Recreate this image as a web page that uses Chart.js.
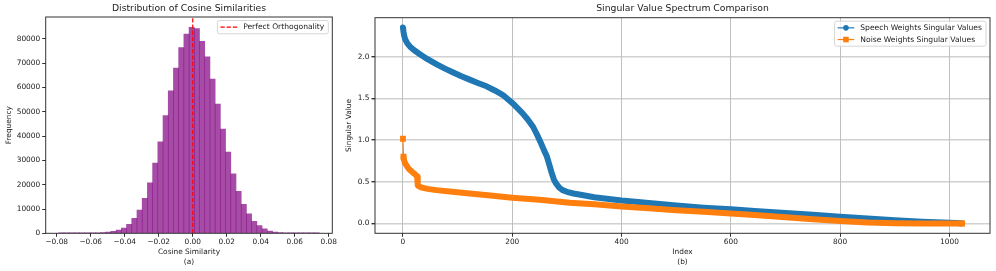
<!DOCTYPE html>
<html>
<head>
<meta charset="utf-8">
<script src="https://cdn.jsdelivr.net/npm/chart.js@4.4.1/dist/chart.umd.min.js"></script>
<style>
  html, body { margin: 0; padding: 0; background: #fff; }
  .panel { position: absolute; top: 0; }
</style>
</head>
<body>
<div class="panel" style="left:0"><canvas id="hist" width="340" height="271"></canvas></div>
<div class="panel" style="left:340px"><canvas id="spec" width="656" height="271"></canvas></div>
<script>
// (a) histogram of cosine similarities, 50 bins
const binStart = -0.0788;
const binWidth = 0.003066;
const binCounts = [
  1, 2, 5, 12, 25, 50, 100, 170, 275, 550,
  825, 1375, 2200, 3700, 6200, 9600, 14400, 20800, 28900, 37700,
  48500, 58600, 68000, 76500, 82000, 84800, 84300, 79000, 72600, 63500,
  53200, 42900, 33400, 24500, 17300, 11900, 8000, 4950, 3160, 1790,
  960, 550, 275, 140, 70, 30, 12, 5, 2, 1
];
const histXTicks = [-0.08, -0.06, -0.04, -0.02, 0, 0.02, 0.04, 0.06, 0.08];
const histYTicks = [0, 10000, 20000, 30000, 40000, 50000, 60000, 70000, 80000];

// (b) singular value spectra
const speechIdx = [0, 1, 2, 4, 8, 13, 20, 31, 45, 61, 76, 92, 107, 122, 137, 153, 168, 183, 192, 201,
  210, 219, 228, 238, 245, 252, 258, 263, 268, 272, 276, 280, 286, 292, 300, 312, 325, 350, 373, 400,
  450, 500, 550, 600, 650, 700, 750, 800, 850, 900, 950, 1000, 1023];
const speechVal = [2.35, 2.30, 2.26, 2.21, 2.16, 2.12, 2.08, 2.03, 1.97, 1.91, 1.86, 1.81, 1.765, 1.725, 1.685, 1.645, 1.595, 1.54, 1.49, 1.44,
  1.38, 1.32, 1.25, 1.16, 1.07, 0.97, 0.88, 0.81, 0.70, 0.61, 0.53, 0.48, 0.43, 0.40, 0.38, 0.36, 0.345, 0.315, 0.296, 0.275,
  0.245, 0.215, 0.19, 0.17, 0.148, 0.127, 0.104, 0.082, 0.06, 0.038, 0.02, 0.008, 0.002];
const noiseIdx = [0, 1, 2, 4, 7, 10, 15, 20, 24, 26, 27, 28, 35, 45, 61, 90, 122, 160, 200, 250,
  305, 350, 400, 450, 500, 550, 600, 650, 700, 750, 800, 850, 900, 950, 1023];
const noiseVal = [1.016, 0.80, 0.76, 0.72, 0.69, 0.66, 0.63, 0.60, 0.58, 0.56, 0.46, 0.45, 0.43, 0.415, 0.40, 0.38, 0.36, 0.335, 0.31, 0.285,
  0.25, 0.23, 0.205, 0.183, 0.16, 0.14, 0.12, 0.098, 0.075, 0.052, 0.03, 0.012, 0.003, 0.001, 0.0];
const specXTicks = [0, 200, 400, 600, 800, 1000];
const specYTicks = [0, 0.5, 1, 1.5, 2];

const BLUE = '#1f77b4';
const ORANGE = '#ff7f0e';
const INK = '#1a1a1a';
const FONT = 'DejaVu Sans';

Chart.defaults.font.family = FONT;
Chart.defaults.color = INK;

// matplotlib-like box around the axes
const frame = {
  id: 'frame',
  afterDatasetsDraw (chart) {
    const { ctx, chartArea: a } = chart;
    ctx.save();
    ctx.strokeStyle = '#333';
    ctx.lineWidth = 1;
    ctx.strokeRect(a.left, a.top, a.right - a.left, a.bottom - a.top);
    ctx.restore();
  }
};

// legend with line sample + marker, top right of the axes
const mplLegend = {
  id: 'mplLegend',
  afterDraw (chart, args, opts) {
    const items = opts.items;
    if (!items) return;
    const { ctx, chartArea: a } = chart;
    ctx.save();
    ctx.font = '7.6px "' + FONT + '"';
    const textW = Math.max(...items.map(it => ctx.measureText(it.label).width));
    const w = 3 + 16.7 + 6 + textW + 4;
    const h = 1.6 + items.length * 11.7;
    const x = a.right - 4 - w;
    const y = a.top + 3.5;
    ctx.beginPath();
    ctx.roundRect(x, y, w, h, 2);
    ctx.fillStyle = 'rgba(255,255,255,0.8)';
    ctx.fill();
    ctx.strokeStyle = '#d6d6d6';
    ctx.lineWidth = 1;
    ctx.stroke();
    items.forEach((it, i) => {
      const cy = y + 0.8 + 11.7 * i + 5.85;
      const x0 = x + 3;
      const x1 = x0 + 16.7;
      ctx.strokeStyle = it.color;
      ctx.lineWidth = it.lineWidth;
      ctx.setLineDash(it.dash || []);
      ctx.beginPath();
      ctx.moveTo(x0, cy);
      ctx.lineTo(x1, cy);
      ctx.stroke();
      ctx.setLineDash([]);
      const mx = (x0 + x1) / 2;
      ctx.fillStyle = it.color;
      if (it.marker === 'circle') {
        ctx.beginPath();
        ctx.arc(mx, cy, 2.8, 0, Math.PI * 2);
        ctx.fill();
      } else if (it.marker === 'square') {
        ctx.fillRect(mx - 2.8, cy - 2.8, 5.6, 5.6);
      }
      ctx.fillStyle = INK;
      ctx.textBaseline = 'middle';
      ctx.fillText(it.label, x1 + 6, cy);
    });
    ctx.restore();
  }
};

const fmtMinus = v => (v < 0 ? '\u2212' : '') + Math.abs(v).toFixed(2);
const tickFont = { size: 7.4 };
const axisTitleFont = { size: 7.4, lineHeight: 1.27 };

// ---------- (a) ----------
const histData = binCounts.map((c, k) => ({ x: binStart + (k + 0.5) * binWidth, y: c }));
const histTop = 89040;

new Chart(document.getElementById('hist'), {
  type: 'bar',
  data: {
    datasets: [
      {
        type: 'line',
        label: 'Perfect Orthogonality',
        data: [{ x: 0, y: 0 }, { x: 0, y: histTop }],
        borderColor: '#ff0000',
        borderWidth: 1.2,
        borderDash: [4.3, 1.9],
        pointRadius: 0,
        order: 0
      },
      {
        label: 'hist',
        data: histData,
        backgroundColor: 'rgba(128,0,128,0.7)',
        borderWidth: 0,
        barPercentage: 1,
        categoryPercentage: 1,
        order: 1
      }
    ]
  },
  options: {
    responsive: false,
    animation: false,
    events: [],
    layout: { padding: { left: 0, right: 7.7, top: 0, bottom: 0 } },
    plugins: {
      legend: { display: false },
      tooltip: { enabled: false },
      title: {
        display: true,
        fullSize: false,
        text: 'Distribution of Cosine Similarities',
        font: { size: 9.25, weight: 'normal' },
        color: INK,
        padding: { top: 3.4, bottom: 2.5 }
      },
      mplLegend: {
        items: [{ label: 'Perfect Orthogonality', color: '#ff0000', lineWidth: 1.2, dash: [4.3, 1.9] }]
      }
    },
    scales: {
      x: {
        type: 'linear',
        offset: false,
        min: -0.0865,
        max: 0.0821,
        afterBuildTicks: s => { s.ticks = histXTicks.map(v => ({ value: v })); },
        afterFit: s => { s.height = 37.7; },
        ticks: { font: tickFont, padding: 0.7, maxRotation: 0, callback: v => fmtMinus(v) },
        grid: { offset: false, drawOnChartArea: false, drawTicks: true, tickLength: 3.5, tickColor: '#333' },
        border: { display: false },
        title: { display: true, text: ['Cosine Similarity', '(a)'], font: axisTitleFont, padding: { top: 0, bottom: 4.6 } }
      },
      y: {
        min: 0,
        max: histTop,
        afterBuildTicks: s => { s.ticks = histYTicks.map(v => ({ value: v })); },
        afterFit: s => { s.width = 45.7; },
        ticks: { font: tickFont, padding: 2, callback: v => String(v) },
        grid: { drawOnChartArea: false, drawTicks: true, tickLength: 3.5, tickColor: '#333' },
        border: { display: false },
        title: { display: true, text: 'Frequency', font: axisTitleFont, padding: { top: 4.3, bottom: 0 } }
      }
    }
  },
  plugins: [frame, mplLegend]
});

// ---------- (b) ----------
const speechPts = speechIdx.map((x, k) => ({ x, y: speechVal[k] }));
const noisePts = noiseIdx.map((x, k) => ({ x, y: noiseVal[k] }));
const lastNoise = noisePts.length - 2;

new Chart(document.getElementById('spec'), {
  type: 'line',
  data: {
    datasets: [
      {
        label: 'Noise Weights Singular Values (first)',
        data: noisePts.slice(0, 2),
        borderColor: ORANGE,
        backgroundColor: ORANGE,
        borderWidth: 1.2,
        pointStyle: 'rect',
        pointRadius: ctx => (ctx.dataIndex === 0 ? 4.1 : 0),
        pointBorderWidth: 0,
        order: 0
      },
      {
        label: 'Noise Weights Singular Values',
        data: noisePts.slice(1),
        borderColor: ORANGE,
        backgroundColor: ORANGE,
        borderWidth: 6,
        borderJoinStyle: 'round',
        borderCapStyle: 'butt',
        pointStyle: 'rect',
        pointRadius: ctx => (ctx.dataIndex === 0 || ctx.dataIndex === lastNoise ? 4.2 : 0),
        pointBorderWidth: 0,
        order: 1
      },
      {
        label: 'Speech Weights Singular Values',
        data: speechPts,
        borderColor: BLUE,
        backgroundColor: BLUE,
        borderWidth: 6,
        borderJoinStyle: 'round',
        borderCapStyle: 'round',
        pointRadius: 0,
        order: 2
      }
    ]
  },
  options: {
    responsive: false,
    animation: false,
    events: [],
    layout: { padding: { left: 0, right: 6, top: 0, bottom: 0 } },
    plugins: {
      legend: { display: false },
      tooltip: { enabled: false },
      title: {
        display: true,
        fullSize: false,
        text: 'Singular Value Spectrum Comparison',
        font: { size: 9.25, weight: 'normal' },
        color: INK,
        padding: { top: 3.4, bottom: 3.2 }
      },
      mplLegend: {
        items: [
          { label: 'Speech Weights Singular Values', color: BLUE, lineWidth: 1.2, marker: 'circle' },
          { label: 'Noise Weights Singular Values', color: ORANGE, lineWidth: 1.2, marker: 'square' }
        ]
      }
    },
    scales: {
      x: {
        type: 'linear',
        min: -51.15,
        max: 1074.15,
        afterBuildTicks: s => { s.ticks = specXTicks.map(v => ({ value: v })); },
        afterFit: s => { s.height = 37.7; },
        ticks: { font: tickFont, padding: 0.7, maxRotation: 0, callback: v => String(v) },
        grid: { color: 'rgba(176,176,176,0.8)', lineWidth: 1, drawTicks: true, tickLength: 3.5, tickColor: '#333' },
        border: { display: false },
        title: { display: true, text: ['Index', '(b)'], font: axisTitleFont, padding: { top: 0, bottom: 4.6 } }
      },
      y: {
        min: -0.1175,
        max: 2.4675,
        afterBuildTicks: s => { s.ticks = specYTicks.map(v => ({ value: v })); },
        afterFit: s => { s.width = 35; },
        ticks: { font: tickFont, padding: 2, callback: v => v.toFixed(1) },
        grid: { color: 'rgba(190,190,190,0.7)', lineWidth: 1.4, drawTicks: true, tickLength: 3.5, tickColor: '#333' },
        border: { display: false },
        title: { display: true, text: 'Singular Value', font: axisTitleFont, padding: { top: 4.3, bottom: 0 } }
      }
    }
  },
  plugins: [frame, mplLegend]
});
</script>
</body>
</html>
